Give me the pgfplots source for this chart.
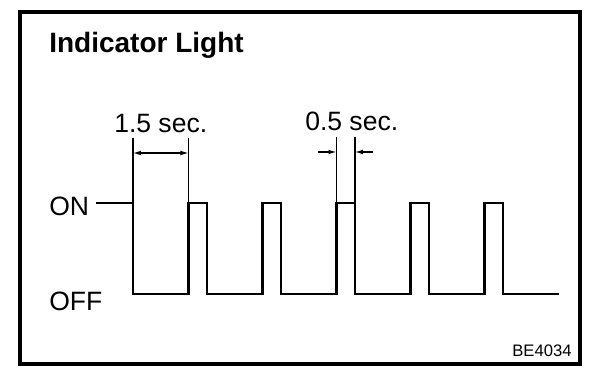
\documentclass[border=0pt]{standalone}
\usepackage{pgfplots}
\pgfplotsset{compat=1.18}
\usepackage{fontspec}
\setmainfont{Liberation Sans}
\usetikzlibrary{arrows.meta}
% pixel -> data helpers: x_px = 133 + 37 t ; y_px = 294 - 91 level
\newcommand{\PX}[2]{(axis cs:{(#1-133)/37},{(294-#2)/91})}
\begin{document}
\begin{tikzpicture}
\begin{axis}[
  width=456pt, height=291pt, scale only axis,
  xmin={-133/37}, xmax={(608-133)/37},
  ymin={(294-388)/91}, ymax={294/91},
  hide axis, clip=false,
]
% background
\fill[white] \PX{0}{0} rectangle \PX{608}{388};
% frame
\draw[line width=3pt] \PX{20}{12} rectangle \PX{580}{364};
% signal
\addplot[black, line width=1.7pt, mark=none] coordinates {
 (-1,1) (0,1) (0,0) (1.5,0) (1.5,1) (2,1) (2,0) (3.5,0) (3.5,1) (4,1) (4,0)
 (5.5,0) (5.5,1) (6,1) (6,0) (7.5,0) (7.5,1) (8,1) (8,0) (9.5,0) (9.5,1)
 (10,1) (10,0) (11.5,0)
};
% dimension: 1.5 sec
\addplot[black, line width=0.8pt, mark=none] coordinates {(0,{(294-138)/91}) (0,1)};
\addplot[black, line width=0.8pt, mark=none] coordinates {(1.5,{(294-138)/91}) (1.5,1)};
\addplot[black, line width=0.8pt, mark=none, {Latex[length=6pt,width=3.5pt]}-{Latex[length=6pt,width=3.5pt]}] coordinates {(0,{(294-153)/91}) (1.5,{(294-153)/91})};
% dimension: 0.5 sec
\addplot[black, line width=0.8pt, mark=none] coordinates {(5.5,{(294-137)/91}) (5.5,1)};
\addplot[black, line width=0.8pt, mark=none] coordinates {(6,{(294-137)/91}) (6,1)};
\addplot[black, line width=0.8pt, mark=none, -{Latex[length=6pt,width=3.5pt]}] coordinates {({(318-133)/37},{(294-152)/91}) (5.5,{(294-152)/91})};
\addplot[black, line width=0.8pt, mark=none, -{Latex[length=6pt,width=3.5pt]}] coordinates {({(373-133)/37},{(294-152)/91}) (6,{(294-152)/91})};
% texts
\node[anchor=base west, inner sep=0pt, font=\fontsize{21pt}{24pt}\selectfont\bfseries] at \PX{49}{53} {Indicator Light};
\node[anchor=base west, inner sep=0pt, font=\fontsize{19.9pt}{23pt}\selectfont] at \PX{114}{132} {1.5 sec.};
\node[anchor=base west, inner sep=0pt, font=\fontsize{19.9pt}{23pt}\selectfont] at \PX{305}{131} {0.5 sec.};
\node[anchor=base west, inner sep=0pt, font=\fontsize{19.9pt}{23pt}\selectfont] at \PX{49}{216} {ON};
\node[anchor=base west, inner sep=0pt, font=\fontsize{19.9pt}{23pt}\selectfont] at \PX{49}{311} {OFF};
\node[anchor=base west, inner sep=0pt, font=\fontsize{12.5pt}{15pt}\selectfont] at \PX{512}{357} {BE4034};
\end{axis}
\end{tikzpicture}
\end{document}
